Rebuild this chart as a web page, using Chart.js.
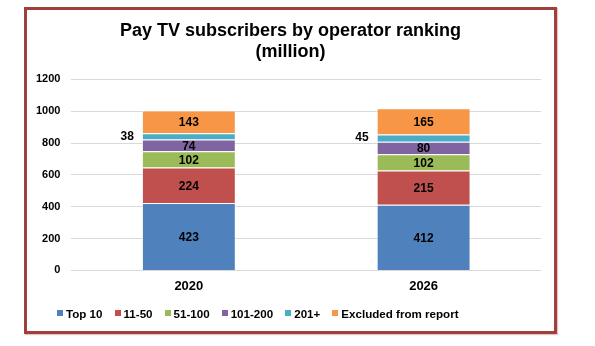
<!DOCTYPE html>
<html>
<head>
<meta charset="utf-8">
<script src="https://cdn.jsdelivr.net/npm/chart.js@4"></script>
<style>
  html, body { margin: 0; padding: 0; background: #fff; }
  body { width: 595px; height: 346px; position: relative; overflow: hidden; font-family: "Liberation Sans", Arial, sans-serif; }
  #frame {
    position: absolute; left: 24px; top: 7px; width: 533px; height: 327px;
    box-sizing: border-box; border: 3px solid #a0403d;
    box-shadow: 1px 1px 1px rgba(160, 64, 61, 0.3);
    pointer-events: none;
  }
  #wrap { position: absolute; left: 0; top: 0; width: 581px; height: 346px; }
  #legend {
    position: absolute; left: 57px; top: 305px; height: 16px;
    display: flex; align-items: center; font-weight: bold; font-size: 11.6px; color: #000;
    white-space: nowrap;
  }
  #legend .item { display: flex; align-items: center; margin-right: 12px; }
  #legend .box { width: 6px; height: 6px; margin-right: 3px; }
</style>
</head>
<body>
<div id="wrap"><canvas id="chart"></canvas></div>
<div id="legend"></div>
<div id="frame"></div>
<script>
  // Subscriber counts in millions, stacked bottom to top
  const years = ['2020', '2026'];
  const seriesNames = ['Top 10', '11-50', '51-100', '101-200', '201+', 'Excluded from report'];
  const top10 = [423, 412];
  const rank11to50 = [224, 215];
  const rank51to100 = [102, 102];
  const rank101to200 = [74, 80];
  const rank201plus = [38, 45];
  const excluded = [143, 165];
  const yTicks = [0, 200, 400, 600, 800, 1000, 1200];

  const seriesData = [top10, rank11to50, rank51to100, rank101to200, rank201plus, excluded];
  const colors = ['#4f81bd', '#c0504d', '#9bbb59', '#8064a2', '#4bacc6', '#f79646'];

  // value labels: centred in each segment, the thin 201+ band gets its label on the left
  const segmentLabels = {
    id: 'segmentLabels',
    afterDatasetsDraw(chart) {
      const ctx = chart.ctx;
      ctx.save();
      ctx.font = 'bold 12px "Liberation Sans", Arial, sans-serif';
      ctx.fillStyle = '#000';
      ctx.textBaseline = 'middle';
      chart.data.datasets.forEach((ds, i) => {
        const meta = chart.getDatasetMeta(i);
        meta.data.forEach((bar, j) => {
          const y = (bar.y + bar.base) / 2;
          const text = String(ds.data[j]);
          if (ds.label === '201+') {
            ctx.textAlign = 'right';
            ctx.fillText(text, bar.x - bar.width / 2 - 8, y);
          } else {
            ctx.textAlign = 'center';
            ctx.fillText(text, bar.x, y + 1);
          }
        });
      });
      ctx.restore();
    }
  };

  // nudge the title box so the heading sits centred in the frame
  const titleShift = {
    id: 'titleShift',
    afterLayout(chart) {
      if (chart.titleBlock) chart.titleBlock.left += 15;
    }
  };

  new Chart(document.getElementById('chart'), {
    type: 'bar',
    data: {
      labels: years,
      datasets: seriesNames.map((name, i) => ({
        label: name,
        data: seriesData[i],
        backgroundColor: colors[i],
        borderColor: 'rgba(255,255,255,0.55)',
        borderWidth: 1,
        barPercentage: 0.4,
        categoryPercentage: 1.0,
      })),
    },
    options: {
      responsive: true,
      maintainAspectRatio: false,
      animation: false,
      layout: { padding: { left: 25, right: 40, top: 8, bottom: 52 } },
      plugins: {
        legend: { display: false },
        tooltip: { enabled: false },
        title: {
          display: true,
          text: ['Pay TV subscribers by operator ranking', '(million)'],
          color: '#000',
          font: { family: '"Liberation Sans", Arial, sans-serif', size: 18, weight: 'bold', lineHeight: 1.15 },
          padding: { top: 13, bottom: 17 },
        },
      },
      scales: {
        x: {
          stacked: true,
          grid: { display: false },
          border: { display: false },
          ticks: {
            color: '#000',
            padding: 0,
            font: { family: '"Liberation Sans", Arial, sans-serif', size: 13, weight: 'bold' },
          },
        },
        y: {
          stacked: true,
          min: 0,
          max: 1200,
          afterBuildTicks(axis) {
            axis.ticks = yTicks.map((v) => ({ value: v }));
          },
          grid: { color: '#d9d9d9', lineWidth: 1, drawTicks: false },
          border: { display: false },
          ticks: {
            color: '#000',
            padding: 11,
            callback: (v) => String(v),
            font: { family: '"Liberation Sans", Arial, sans-serif', size: 11, weight: 'bold' },
          },
        },
      },
    },
    plugins: [segmentLabels, titleShift],
  });

  // legend row built from the same series names and colours
  const legend = document.getElementById('legend');
  seriesNames.forEach((name, i) => {
    const item = document.createElement('div');
    item.className = 'item';
    const box = document.createElement('span');
    box.className = 'box';
    box.style.background = colors[i];
    const label = document.createElement('span');
    label.textContent = name;
    item.appendChild(box);
    item.appendChild(label);
    legend.appendChild(item);
  });
</script>
</body>
</html>
